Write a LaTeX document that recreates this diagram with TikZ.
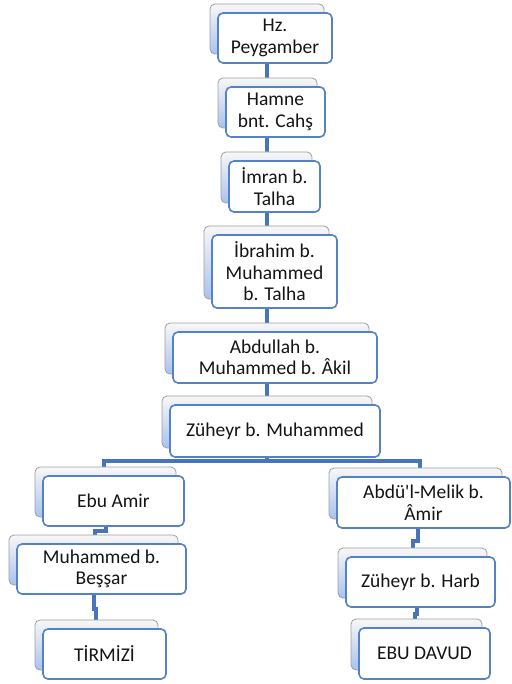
\documentclass[tikz,border=0pt]{standalone}
\usepackage{fontspec}
\setmainfont{Carlito}
\usetikzlibrary{shadows,backgrounds}
\definecolor{connblue}{RGB}{70,118,184}
\definecolor{boxblue}{RGB}{84,130,196}
\definecolor{backblue}{RGB}{168,194,240}
\definecolor{txt}{RGB}{20,20,20}
\tikzset{
  person/.style={draw=boxblue, line width=1.6pt, rounded corners=5pt, fill=white,
    inner sep=0pt, align=center, text=txt, font=\fontsize{19.5}{21.5}\selectfont,
    copy shadow={shadow xshift=-8pt, shadow yshift=9pt, draw=gray!75, line width=0.8pt,
      top color=gray!6, bottom color=backblue}},
  conn/.style={draw=connblue, line width=4pt},
}
\begin{document}
\begin{tikzpicture}[x=1pt,y=-1pt]
\useasboundingbox (0,0) rectangle (511,684);
% nodes
\node[person, minimum width=114pt, minimum height=50pt] (n1) at (275,38) {Hz.\\Peygamber};
\node[person, minimum width=99pt, minimum height=50pt] (n2) at (275.5,112) {Hamne\\bnt. Cahş};
\node[person, minimum width=91pt, minimum height=51pt] (n3) at (274.5,186.5) {İmran b.\\Talha};
\node[person, minimum width=125pt, minimum height=73pt] (n4) at (274.5,271.5) {İbrahim b.\\Muhammed\\b. Talha};
\node[person, minimum width=204pt, minimum height=51pt] (n5) at (275,357.5) {Abdullah b.\\Muhammed b. Âkil};
\node[person, minimum width=210pt, minimum height=52pt] (n6) at (275,431) {Züheyr b. Muhammed};
\node[person, minimum width=141pt, minimum height=50pt] (n7) at (113.5,501) {Ebu Amir};
\node[person, minimum width=169pt, minimum height=50pt] (n8) at (101.5,569) {Muhammed b.\\Beşşar};
\node[person, minimum width=123pt, minimum height=50pt] (n9) at (104.5,654) {TİRMİZİ};
\node[person, minimum width=173pt, minimum height=51pt] (n10) at (423.5,502.5) {Abdü\textquotesingle l-Melik b.\\Âmir};
\node[person, minimum width=149pt, minimum height=50pt] (n11) at (420.5,582) {Züheyr b. Harb};
\node[person, minimum width=131pt, minimum height=51pt] (n12) at (424.5,653.5) {EBU DAVUD};
\coordinate (bar) at ([yshift=-3pt]n6.south -| 267,0);
% connectors
\begin{scope}[on background layer]
\fill[white] (0,0) rectangle (511,684);
\draw[conn] (n1.south -| 267,0) -- (bar);
\draw[conn] (n7.north -| 104,0) |- (bar) -| (n10.north -| 420,0);
\draw[conn] (n7.south -| 106,0) -- ++(0,4) -| (n8.north -| 95,0);
\draw[conn] (n8.south -| 94,0) -- ++(0,14) -| (n9.north -| 96,0);
\draw[conn] (n10.south -| 418,0) -- ++(0,12) -| (n11.north -| 413,0);
\draw[conn] (n11.south -| 417,0) -- ++(0,6) -| (n12.north -| 415,0);
\end{scope}
\end{tikzpicture}
\end{document}
